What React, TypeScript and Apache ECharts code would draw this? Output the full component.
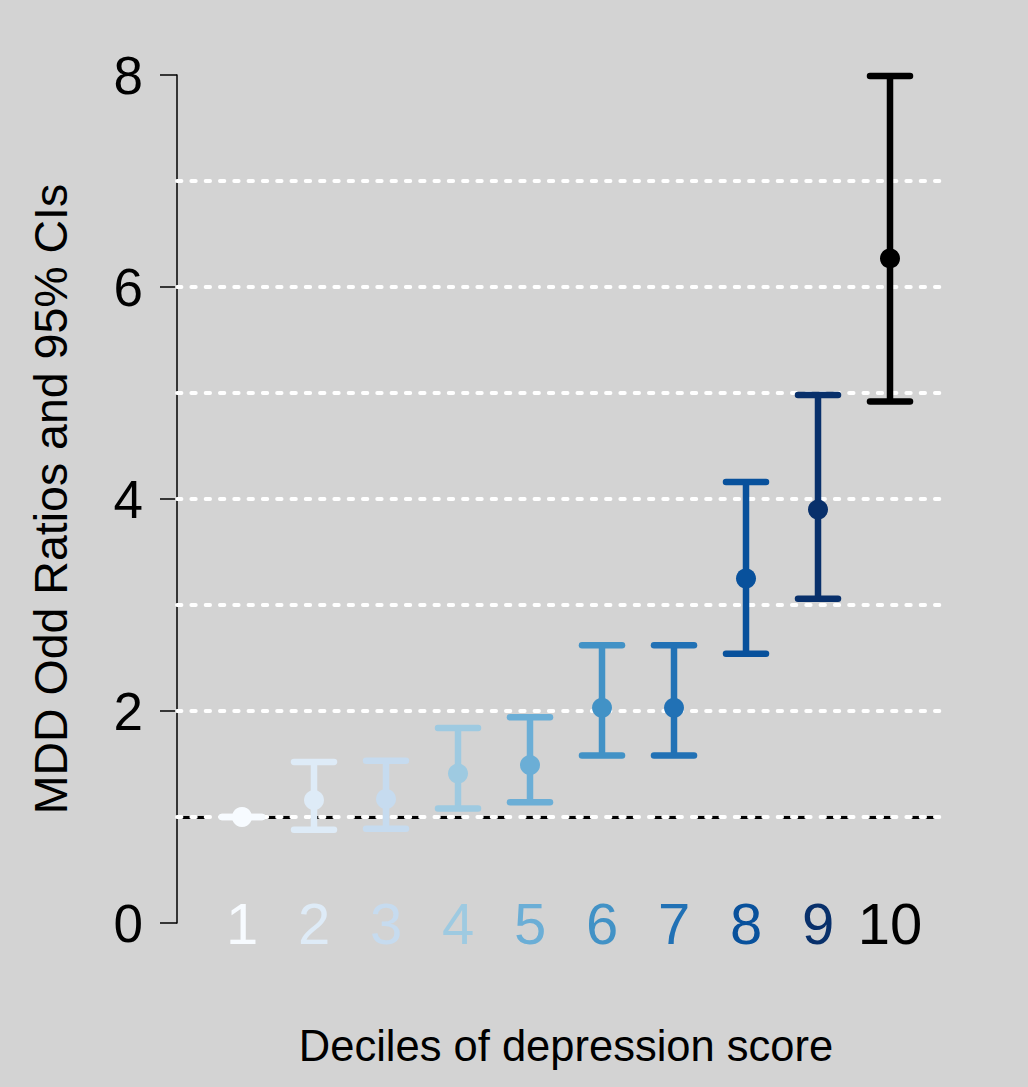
import React, { useEffect, useRef } from "react";
import * as echarts from "echarts";

const categories = ["1", "2", "3", "4", "5", "6", "7", "8", "9", "10"];
const oddsRatio = [1.0, 1.16, 1.17, 1.41, 1.49, 2.03, 2.03, 3.25, 3.9, 6.27];
const lowerCI = [1.0, 0.88, 0.89, 1.08, 1.14, 1.58, 1.58, 2.54, 3.06, 4.92];
const upperCI = [1.0, 1.52, 1.53, 1.84, 1.94, 2.62, 2.62, 4.16, 4.98, 7.99];
const decileColors = [
  "#f7fbff",
  "#deebf7",
  "#c6dbef",
  "#9ecae1",
  "#6baed6",
  "#4292c6",
  "#2171b5",
  "#08519c",
  "#08306b",
  "#000000",
];
const gridValues = [1, 2, 3, 4, 5, 6, 7];
const referenceValue = 1;

const FONT = "'Liberation Sans', Arial, Helvetica, sans-serif";

export default function App() {
  const ref = useRef<HTMLDivElement>(null);

  useEffect(() => {
    document.body.style.margin = "0";
    document.body.style.background = "#d3d3d3";
    if (!ref.current) return;
    const chart = echarts.init(ref.current, undefined, { renderer: "svg" });

    const option: any = {
      animation: false,
      backgroundColor: "#d3d3d3",
      textStyle: { fontFamily: FONT },
      grid: [
        { left: 177, top: 75, width: 771, height: 848, containLabel: false },
        { left: 206, top: 75, width: 720, height: 848, containLabel: false },
      ],
      xAxis: [
        { type: "value", gridIndex: 0, min: 0, max: 1, show: false },
        {
          type: "category",
          gridIndex: 1,
          data: categories,
          boundaryGap: true,
          axisLine: { show: false },
          axisTick: { show: false },
          splitLine: { show: false },
          axisLabel: {
            interval: 0,
            fontSize: 58,
            fontFamily: FONT,
            margin: 0,
            verticalAlign: "middle",
            color: (v: any) => decileColors[categories.indexOf(String(v))],
          },
          name: "Deciles of depression score",
          nameLocation: "middle",
          nameGap: 101,
          nameTextStyle: { fontSize: 43.5, color: "#000", fontFamily: FONT },
        },
      ],
      yAxis: [
        {
          type: "value",
          gridIndex: 0,
          min: 0,
          max: 8,
          interval: 2,
          axisLine: { show: true, lineStyle: { color: "#000", width: 1.5 } },
          axisTick: { show: true, length: 17, lineStyle: { color: "#000", width: 1.5 } },
          axisLabel: { fontSize: 53, color: "#000", margin: 34, fontFamily: FONT },
          splitLine: { show: false },
          name: "MDD Odd Ratios and 95% CIs",
          nameLocation: "middle",
          nameGap: 103,
          nameTextStyle: { fontSize: 46.5, color: "#000", fontFamily: FONT },
        },
        { type: "value", gridIndex: 1, min: 0, max: 8, show: false },
      ],
      series: [
        {
          type: "line",
          xAxisIndex: 0,
          yAxisIndex: 0,
          data: [],
          z: 1,
          silent: true,
          markLine: {
            silent: true,
            symbol: "none",
            label: { show: false },
            lineStyle: { color: "#000", width: 3, type: [28, 15], cap: "butt" },
            data: [{ yAxis: referenceValue }],
          },
        },
        {
          type: "line",
          xAxisIndex: 0,
          yAxisIndex: 0,
          data: [],
          z: 2,
          silent: true,
          markLine: {
            silent: true,
            symbol: "none",
            label: { show: false },
            lineStyle: { color: "#ffffff", width: 3.8, type: [4.5, 9.8], cap: "round", dashOffset: 0 },
            data: gridValues.map((v) => ({ yAxis: v })),
          },
        },
        {
          type: "custom",
          xAxisIndex: 1,
          yAxisIndex: 1,
          z: 5,
          data: categories.map((_, i) => [i, lowerCI[i], oddsRatio[i], upperCI[i]]),
          renderItem: (params: any, api: any) => {
            const xi = api.value(0);
            const lo = api.coord([xi, api.value(1)]);
            const est = api.coord([xi, api.value(2)]);
            const hi = api.coord([xi, api.value(3)]);
            const color = decileColors[params.dataIndex];
            const half = 20;
            const lw = 6.5;
            return {
              type: "group",
              children: [
                {
                  type: "line",
                  shape: { x1: lo[0], y1: lo[1], x2: hi[0], y2: hi[1] },
                  style: { stroke: color, lineWidth: lw, lineCap: "butt" },
                },
                {
                  type: "line",
                  shape: { x1: hi[0] - half, y1: hi[1], x2: hi[0] + half, y2: hi[1] },
                  style: { stroke: color, lineWidth: lw, lineCap: "round" },
                },
                {
                  type: "line",
                  shape: { x1: lo[0] - half, y1: lo[1], x2: lo[0] + half, y2: lo[1] },
                  style: { stroke: color, lineWidth: lw, lineCap: "round" },
                },
                {
                  type: "circle",
                  shape: { cx: est[0], cy: est[1], r: 10 },
                  style: { fill: color },
                },
              ],
            };
          },
        },
      ],
    };

    chart.setOption(option);
    return () => chart.dispose();
  }, []);

  return <div ref={ref} style={{ width: 1028, height: 1087 }} />;
}
